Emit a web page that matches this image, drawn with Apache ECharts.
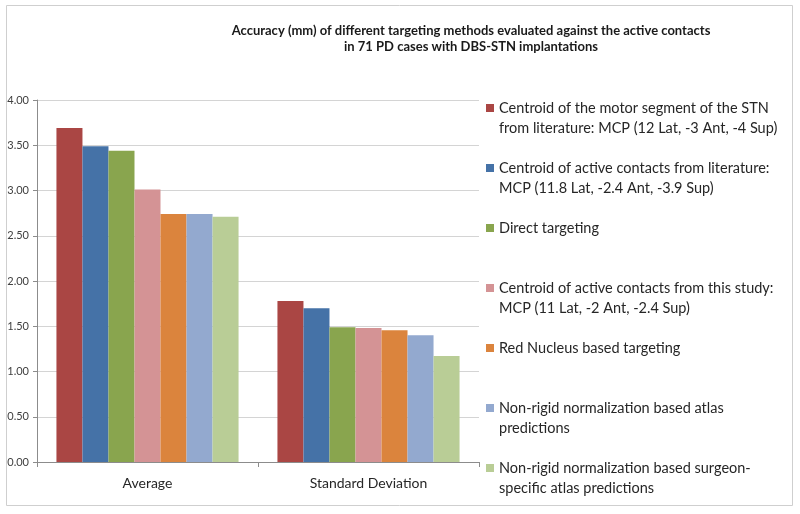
<!DOCTYPE html>
<html>
<head>
<meta charset="utf-8">
<script src="https://cdn.jsdelivr.net/npm/echarts@6/dist/echarts.min.js"></script>
<style>
  html, body { margin: 0; padding: 0; background: #fff; }
  #chart { width: 800px; height: 514px; }
</style>
</head>
<body>
<div id="chart"></div>
<script>
// categories on the x axis
const categories = ['Average', 'Standard Deviation']

// one series per targeting method
const methodNames = [
  'Centroid of the motor segment of the STN\nfrom literature: MCP (12 Lat, -3 Ant, -4 Sup)',
  'Centroid of active contacts from literature:\nMCP (11.8 Lat, -2.4 Ant, -3.9 Sup)',
  'Direct targeting\n',
  'Centroid of active contacts from this study:\nMCP (11 Lat, -2 Ant, -2.4 Sup)',
  'Red Nucleus based targeting\n',
  'Non-rigid normalization based atlas\npredictions',
  'Non-rigid normalization based surgeon-\nspecific atlas predictions'
]
const motorSegment = [3.69, 1.78]
const activeLiterature = [3.49, 1.70]
const directTargeting = [3.44, 1.49]
const activeThisStudy = [3.01, 1.48]
const redNucleus = [2.74, 1.455]
const nonRigidAtlas = [2.74, 1.40]
const nonRigidSurgeon = [2.71, 1.17]

const yTicks = [0, 0.5, 1, 1.5, 2, 2.5, 3, 3.5, 4]

const seriesValues = [motorSegment, activeLiterature, directTargeting, activeThisStudy, redNucleus, nonRigidAtlas, nonRigidSurgeon]
const colors = ['#AA4644', '#4572A7', '#89A54E', '#D49395', '#DB843D', '#93A9CF', '#B9CD96']

const chart = echarts.init(document.getElementById('chart'))
const option = {
  animation: false,
  color: colors,
  textStyle: { fontFamily: 'Lato' },
  title: {
    text: 'Accuracy (mm) of different targeting methods evaluated against the active contacts\nin 71 PD cases with DBS-STN implantations',
    left: 466,
    top: 18,
    textAlign: 'center',
    textStyle: { fontFamily: 'Lato', fontWeight: 'bold', fontSize: 13, lineHeight: 16, color: '#1a1a1a' }
  },
  graphic: [{
    type: 'rect',
    shape: { x: 6.5, y: 5.5, width: 786, height: 500 },
    style: { fill: 'none', stroke: '#cfcfcf', lineWidth: 1 },
    silent: true,
    z: -1
  }],
  legend: {
    orient: 'vertical',
    left: 486,
    top: 78,
    padding: 0,
    itemGap: 0,
    itemWidth: 8,
    itemHeight: 8,
    icon: 'rect',
    selectedMode: false,
    data: methodNames,
    // blank first line so the swatch sits beside the first text line
    formatter: name => '\n' + name,
    textStyle: {
      fontFamily: 'Lato',
      fontSize: 14.5,
      lineHeight: 20,
      color: '#262626'
    }
  },
  grid: { left: 37, right: 321, top: 100, bottom: 52 },
  xAxis: {
    type: 'category',
    data: categories,
    axisLine: { lineStyle: { color: '#8c8c8c' } },
    axisTick: { show: true, length: 5, lineStyle: { color: '#8c8c8c' } },
    axisLabel: { fontFamily: 'Lato', fontSize: 14, color: '#262626', margin: 14 }
  },
  yAxis: {
    type: 'value',
    min: 0,
    max: 4,
    interval: 0.5,
    axisLine: { show: true, lineStyle: { color: '#8c8c8c' } },
    axisTick: { show: true, length: 4, lineStyle: { color: '#8c8c8c' } },
    axisLabel: {
      fontFamily: 'Lato', fontSize: 11, color: '#404040', margin: 8,
      formatter: v => yTicks.indexOf(v) >= 0 ? v.toFixed(2) : ''
    },
    splitLine: { lineStyle: { color: '#d4d4d4' } }
  },
  series: methodNames.map((name, i) => ({
    name: name,
    type: 'bar',
    data: seriesValues[i],
    barGap: '0%',
    barCategoryGap: '17.6%'
  }))
}
chart.setOption(option)
</script>
</body>
</html>
